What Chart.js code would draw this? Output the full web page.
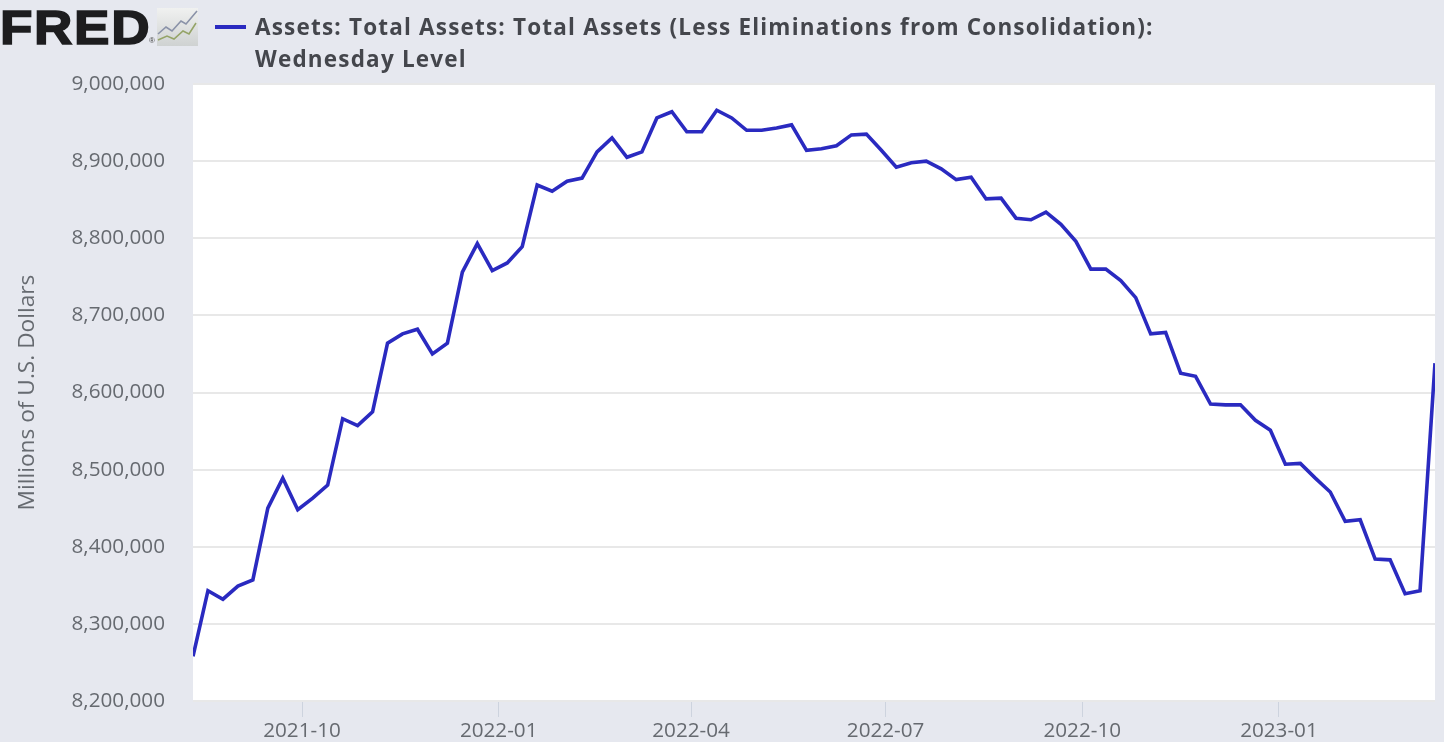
<!DOCTYPE html>
<html>
<head>
<meta charset="utf-8">
<script src="https://cdn.jsdelivr.net/npm/chart.js@4"></script>
<style>
html,body{margin:0;padding:0;width:1444px;height:742px;overflow:hidden;background:#e6e8ef;}
#wrap{position:relative;width:1444px;height:742px;}
canvas{position:absolute;left:0;top:0;}
.logo{position:absolute;left:0;top:-1px;font:bold 49px/56px "Liberation Sans";color:#1d1d1f;letter-spacing:1.5px;-webkit-text-stroke:1.6px #1d1d1f;transform-origin:left top;transform:scaleX(1.085);}
.reg{position:absolute;left:149px;top:36px;font:8px "Liberation Sans";color:#444;}
.icon{position:absolute;left:157px;top:8px;}
.key{position:absolute;left:215px;top:24.5px;width:31px;height:4px;background:#2a2ac0;}
.ttl{position:absolute;left:255px;top:11px;width:1000px;font:700 22.5px/32px "Open Sans";color:#44464c;letter-spacing:1.19px;white-space:nowrap;}
</style>
</head>
<body>
<div id="wrap">
<canvas id="c" width="1444" height="742"></canvas>
<div class="logo">FRED</div>
<div class="reg">®</div>
<svg class="icon" width="41" height="38" viewBox="0 0 41 38">
<defs><linearGradient id="g" x1="0" y1="0" x2="0" y2="1"><stop offset="0" stop-color="#f0f1f0"/><stop offset="1" stop-color="#cfd2d2"/></linearGradient></defs>
<rect width="41" height="38" fill="url(#g)"/>
<polyline points="1,26 9,19 15,23 24,13 29,16 40,3" fill="none" stroke="#8a92a8" stroke-width="1.6"/>
<polyline points="1,32 10,28 17,31 26,23 32,26 39,15" fill="none" stroke="#95a468" stroke-width="1.6"/>
</svg>
<div class="key"></div>
<div class="ttl">Assets: Total Assets: Total Assets (Less Eliminations from Consolidation):<br>Wednesday Level</div>
</div>
<script>
const firstWeek = "2021-08-11";
const assets = [
8258000,8343000,8332000,8349000,8357000,8450000,8489000,8448000,8463000,8480000,
8566000,8557000,8575000,8664000,8676000,8682000,8650000,8664000,8756000,8793000,
8758000,8768000,8789000,8869000,8861000,8874000,8878000,8912000,8930000,8905000,
8912000,8956000,8964000,8938000,8938000,8966000,8956000,8940000,8940000,8943000,
8947000,8914000,8916000,8920000,8934000,8935000,8914000,8892000,8898000,8900000,
8890000,8876000,8879000,8851000,8852000,8826000,8824000,8834000,8818000,8796000,
8760000,8760000,8745000,8723000,8676000,8678000,8625000,8621000,8585000,8584000,
8584000,8564000,8551000,8507000,8508000,8489000,8471000,8433000,8435000,8384000,
8383000,8339000,8343000,8638000];
const xTickLabels = ["2021-10","2022-01","2022-04","2022-07","2022-10","2023-01"];
const yTicks = [8200000,8300000,8400000,8500000,8600000,8700000,8800000,8900000,9000000];
const seriesName = "Assets: Total Assets: Total Assets (Less Eliminations from Consolidation): Wednesday Level";
const yAxisTitle = "Millions of U.S. Dollars";

const DAY = 86400000;
const toDay = s => Date.parse(s + "T00:00:00Z") / DAY;
const start = toDay(firstWeek);
const points = assets.map((v, i) => ({x: start + 7 * i, y: v}));
const tickDays = xTickLabels.map(l => toDay(l + "-01"));

const plotBg = {
  id: "plotBg",
  beforeDraw(chart) {
    const a = chart.chartArea, g = chart.ctx;
    g.save(); g.fillStyle = "#ffffff";
    g.fillRect(a.left, a.top - 1, a.right - a.left, a.bottom - a.top + 1);
    g.restore();
  }
};

new Chart(document.getElementById("c"), {
  type: "line",
  data: {datasets: [{label: seriesName, data: points, borderColor: "#2a2ac0", borderWidth: 3.6,
    pointRadius: 0, tension: 0, fill: false, borderJoinStyle: "miter"}]},
  plugins: [plotBg],
  options: {
    responsive: false, animation: false, devicePixelRatio: 1,
    layout: {padding: {top: 84, right: 9, bottom: 0, left: 0}},
    plugins: {legend: {display: false}, tooltip: {enabled: false}, title: {display: false}},
    scales: {
      x: {
        type: "linear", min: start, max: start + 7 * (assets.length - 1),
        afterBuildTicks(s) { s.ticks = tickDays.map(v => ({value: v})); },
        afterFit(s) { s.height = 41; },
        grid: {drawOnChartArea: false, drawTicks: true, tickLength: 16, color: "#cdd3de", lineWidth: 1},
        border: {display: false},
        ticks: {
          autoSkip: false, maxRotation: 0, minRotation: 0, padding: 2, color: "#666a70",
          font: {family: "Open Sans", size: 20.7},
          callback(v) { const i = tickDays.indexOf(v); return i >= 0 ? xTickLabels[i] : ""; }
        }
      },
      y: {
        min: 8200000, max: 9000000,
        afterBuildTicks(s) { s.ticks = yTicks.map(v => ({value: v})); },
        afterFit(s) { s.width = 193; },
        grid: {color: "#e8e8e8", lineWidth: 2, drawTicks: false},
        border: {display: false},
        ticks: {
          autoSkip: false, padding: 28, color: "#666a70",
          font: {family: "Open Sans", size: 20.7},
          callback(v) { return v.toLocaleString("en-US"); }
        },
        title: {display: true, text: yAxisTitle, color: "#666a70", padding: {top: 14, bottom: 0},
          font: {family: "Open Sans", size: 22.7}}
      }
    }
  }
});
</script>
</body>
</html>
